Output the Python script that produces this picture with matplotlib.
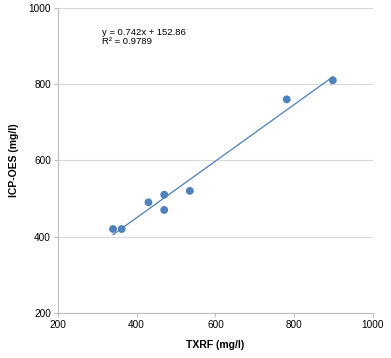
import matplotlib
matplotlib.use("Agg")
import matplotlib.pyplot as plt
import numpy as np

txrf = [340, 362, 430, 470, 470, 535, 781, 898]
icp = [420, 420, 490, 510, 470, 520, 760, 810]
slope = 0.742
intercept = 152.86
r2 = 0.9789
xticks = [200, 400, 600, 800, 1000]
yticks = [200, 400, 600, 800, 1000]

plt.rcParams['font.family'] = ['Liberation Sans', 'DejaVu Sans']
fig = plt.figure(figsize=(3.91, 3.58), dpi=100)
ax = fig.add_axes([0.148, 0.126, 0.806, 0.852])

xs = np.array([min(txrf), max(txrf)])
ax.plot(xs, slope * xs + intercept, color='#4A7EBB', lw=0.9, zorder=2)
ax.scatter(txrf, icp, s=32, color='#4F81BD', zorder=3, edgecolors='none')

ax.set_xlim(200, 1000)
ax.set_ylim(200, 1000)
ax.set_xticks(xticks)
ax.set_yticks(yticks)
ax.tick_params(labelsize=7.2, length=3, color='#BFBFBF', pad=2)
ax.yaxis.grid(True, color='#D9D9D9', lw=0.8)
ax.set_axisbelow(True)
for s in ['top', 'right']:
    ax.spines[s].set_visible(False)
for s in ['left', 'bottom']:
    ax.spines[s].set_color('#BFBFBF')
ax.set_xlabel('TXRF (mg/l)', fontsize=7.5, fontweight='bold', labelpad=7)
ax.set_ylabel('ICP-OES (mg/l)', fontsize=7.5, fontweight='bold', labelpad=7)

ax.text(0.14, 0.935, f'y = {slope}x + {intercept}\nR² = {r2}', transform=ax.transAxes,
        fontsize=6.8, va='top', ha='left', linespacing=1.0)

fig.savefig('out.png', dpi=100)
